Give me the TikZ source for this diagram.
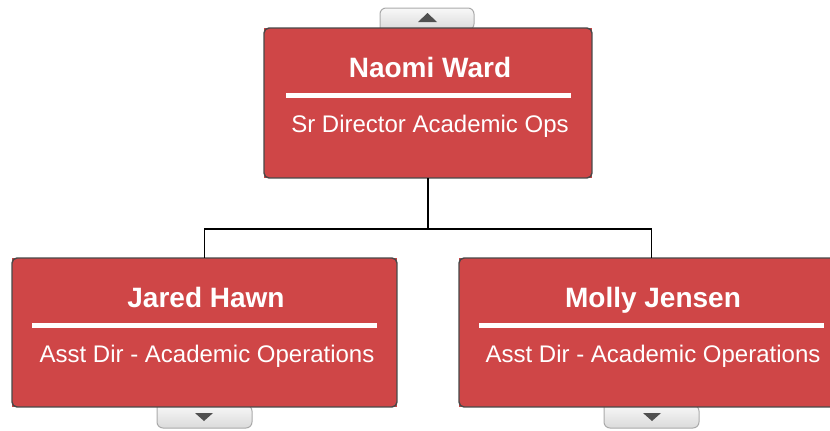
\documentclass[tikz,border=0pt]{standalone}
\usepackage{fontspec}
\setmainfont{Liberation Sans}
\definecolor{boxred}{RGB}{207,70,71}
\definecolor{boxborder}{RGB}{72,72,72}
\definecolor{tabtop}{RGB}{248,248,248}
\definecolor{tabbot}{RGB}{218,218,218}
\definecolor{tabborder}{RGB}{170,170,170}
\definecolor{arrowgray}{RGB}{80,80,80}
\begin{document}
\begin{tikzpicture}[x=1pt,y=-1pt,
  card/.style={fill=boxred, draw=none, minimum width=#1, minimum height=149pt, inner sep=0pt, outer sep=0pt},
  cardline/.style={draw=boxborder, line width=1.4pt, rounded corners=5pt},
  namestyle/.style={text=white, font=\fontsize{28}{32}\selectfont\bfseries, inner sep=0pt, anchor=base},
  titlestyle/.style={text=white, font=\fontsize{24}{28}\selectfont, inner sep=0pt, anchor=base},
  rule/.style={draw=white, line width=5pt},
  tab/.style={top color=tabtop, bottom color=tabbot, draw=tabborder, line width=1pt},
  tri/.style={fill=arrowgray, draw=none},
  link/.style={draw=black, line width=1.8pt}]
\useasboundingbox (0,0) rectangle (830,431);

% tabs (behind cards)
\path[tab, rounded corners=6pt] (380,30) -- (380,8) -- (474,8) -- (474,30) [sharp corners] -- cycle;
\path[tab, rounded corners=6pt] (157,405) -- (157,428) -- (252,428) -- (252,405) [sharp corners] -- cycle;
\path[tab, rounded corners=6pt] (604,405) -- (604,428) -- (699,428) -- (699,405) [sharp corners] -- cycle;

% cards
\node[card=328pt, minimum height=150pt] (naomi) at (428,103) {};
\node[card=385pt] (jared) at (204.5,332.5) {};
\node[card=385pt] (molly) at (651.5,332.5) {};

\draw[cardline] (naomi.south west) rectangle (naomi.north east);
\draw[cardline] (jared.south west) rectangle (jared.north east);
\draw[cardline] (molly.south west) rectangle (molly.north east);

% tab arrows
\coordinate (uptip) at (427.5,13);
\fill[tri] (uptip) -- ++(-9.5,9) -- ++(19,0) -- cycle;
\coordinate (jtip) at (204,421);
\fill[tri] (jtip) -- ++(-9,-8) -- ++(18,0) -- cycle;
\coordinate (mtip) at (652,421);
\fill[tri] (mtip) -- ++(-9,-8) -- ++(18,0) -- cycle;

% texts
\node[namestyle] (naomi-name) at (430,77.5) {Naomi Ward};
\draw[rule] (286,95) -- (571,95);
\node[titlestyle] (naomi-title) at (430,132.5) {Sr Director Academic Ops};

\node[namestyle] (jared-name) at (206,307.5) {Jared Hawn};
\draw[rule] (32,325) -- (377,325);
\node[titlestyle] (jared-title) at (207,362.5) {Asst Dir - Academic Operations};

\node[namestyle] (molly-name) at (653,307.5) {Molly Jensen};
\draw[rule] (479,325) -- (824,325);
\node[titlestyle] (molly-title) at (653,362.5) {Asst Dir - Academic Operations};

% connectors
\coordinate (mid) at (428,229);
\draw[link] (naomi.south) -- (mid);
\draw[link] (mid) -| (jared.north);
\draw[link] (mid) -| (molly.north);
\end{tikzpicture}
\end{document}
